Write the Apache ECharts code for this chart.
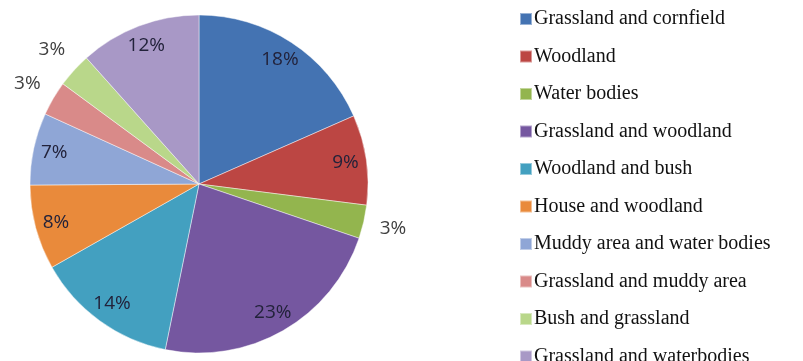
<!DOCTYPE html>
<html>
<head>
<meta charset="utf-8">
<script src="https://cdn.jsdelivr.net/npm/echarts@6/dist/echarts.min.js"></script>
<style>
html,body{margin:0;padding:0;background:#fff;}
#chart{width:803px;height:361px;}
</style>
</head>
<body>
<div id="chart"></div>
<script>
// Categories and values (percent of area)
const categories = [
  'Grassland and cornfield',
  'Woodland',
  'Water bodies',
  'Grassland and woodland',
  'Woodland and bush',
  'House and woodland',
  'Muddy area and water bodies',
  'Grassland and muddy area',
  'Bush and grassland',
  'Grassland and waterbodies'
];
const values = [18.4, 8.6, 3.2, 23.0, 13.6, 8.1, 6.9, 3.3, 3.3, 11.6];
const colors = ['#4473B2', '#BC4643', '#93B54E', '#7557A0', '#43A0C0',
                '#E98A3B', '#8FA6D6', '#D98A89', '#B9D78A', '#A898C6'];

const chart = echarts.init(document.getElementById('chart'));
const center = [199, 184];
const R = 169;
const labelFmt = p => Math.round(p.percent) + '%';

function overlay(radius, test, color) {
  return {
    type: 'pie', radius: [0, radius], center: center, startAngle: 90, clockwise: true,
    silent: true, animation: false, avoidLabelOverlap: false, z: 5,
    itemStyle: { color: 'rgba(0,0,0,0)', borderWidth: 0 },
    label: { show: false },
    labelLine: { show: false },
    emphasis: { disabled: true },
    data: categories.map((c, i) => ({
      name: c, value: values[i],
      label: {
        show: test(values[i]), position: 'inside', formatter: labelFmt,
        color: color, fontFamily: 'Open Sans', fontSize: 19
      }
    }))
  };
}

chart.setOption({
  backgroundColor: '#ffffff',
  animation: false,
  color: colors,
  legend: {
    orient: 'vertical', left: 514, top: 3, height: 450,
    itemWidth: 12, itemHeight: 12, itemGap: 15.5,
    icon: 'rect',
    textStyle: { fontFamily: 'Liberation Serif', fontSize: 20, color: '#111111', lineHeight: 22, padding: [0, 0, 0, -3] },
    data: categories.map((c, i) => ({ name: c, itemStyle: { color: colors[i] } }))
  },
  series: [
    {
      type: 'pie', radius: [0, R], center: center, startAngle: 90, clockwise: true,
      avoidLabelOverlap: false,
      itemStyle: { borderColor: 'rgba(255,255,255,0.45)', borderWidth: 1 },
      label: { show: false },
      labelLine: { show: false },
      data: categories.map((c, i) => ({ name: c, value: values[i], itemStyle: { color: colors[i] } }))
    },
    overlay(290, v => v >= 5, '#22223a'),
    overlay(392, v => v < 5, '#404040')
  ]
});
</script>
</body>
</html>
